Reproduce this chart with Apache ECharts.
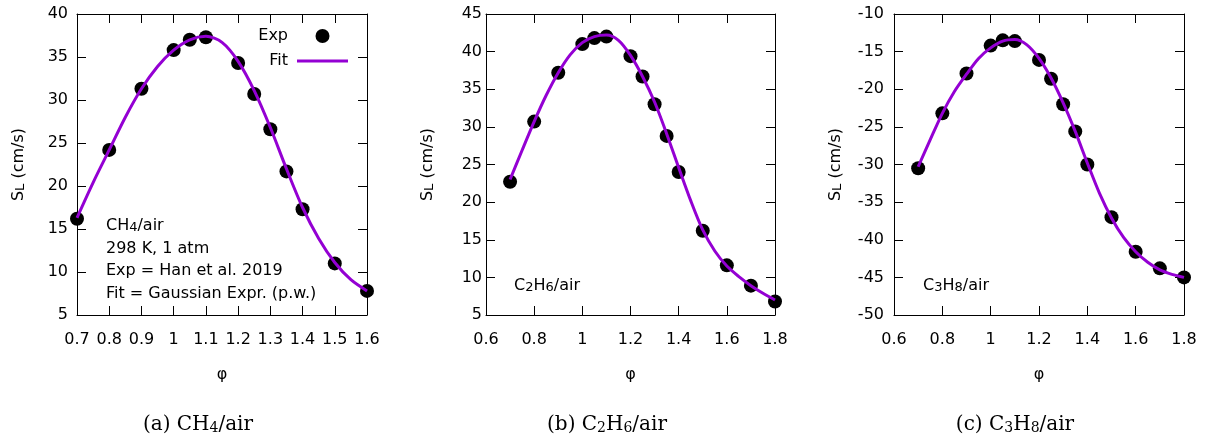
<!DOCTYPE html>
<html><head><meta charset="utf-8">
<script src="https://cdn.jsdelivr.net/npm/echarts@6/dist/echarts.min.js"></script>
<style>html,body{margin:0;padding:0;background:#fff}#c{width:1210px;height:441px}</style>
</head><body><div id="c"></div>
<script>
// ---- data ----
const phiCH4 = [0.7, 0.8, 0.9, 1.0, 1.05, 1.1, 1.2, 1.25, 1.3, 1.35, 1.4, 1.5, 1.6];
const expCH4 = [16.2, 24.2, 31.3, 35.8, 37.0, 37.3, 34.3, 30.7, 26.6, 21.7, 17.3, 11.0, 7.8];
const fitPhiCH4 = [0.7, 0.75, 0.8, 0.85, 0.9, 0.95, 1.0, 1.05, 1.1, 1.15, 1.2, 1.25, 1.3, 1.35, 1.4, 1.45, 1.5, 1.55, 1.6];
const fitCH4 = [16.3, 20.4, 24.2, 28.0, 31.3, 33.9, 35.8, 37.0, 37.4, 36.7, 34.5, 31.1, 26.8, 22.0, 17.5, 13.9, 11.1, 9.1, 7.8];

const phiC2H6 = [0.7, 0.8, 0.9, 1.0, 1.05, 1.1, 1.2, 1.25, 1.3, 1.35, 1.4, 1.5, 1.6, 1.7, 1.8];
const expC2H6 = [22.7, 30.7, 37.2, 41.0, 41.8, 42.0, 39.4, 36.7, 33.0, 28.8, 24.0, 16.2, 11.6, 8.9, 6.8];
const fitPhiC2H6 = [0.7, 0.75, 0.8, 0.85, 0.9, 0.95, 1.0, 1.05, 1.1, 1.15, 1.2, 1.25, 1.3, 1.35, 1.4, 1.45, 1.5, 1.55, 1.6, 1.65, 1.7, 1.75, 1.8];
const fitC2H6 = [23.0, 26.9, 30.7, 34.2, 37.2, 39.6, 41.2, 42.0, 42.2, 41.5, 39.5, 36.7, 33.3, 29.1, 24.6, 20.2, 16.3, 13.5, 11.5, 10.1, 8.9, 7.9, 7.0];

const phiC3H8 = [0.7, 0.8, 0.9, 1.0, 1.05, 1.1, 1.2, 1.25, 1.3, 1.35, 1.4, 1.5, 1.6, 1.7, 1.8];
const expC3H8 = [-30.5, -23.2, -17.9, -14.2, -13.5, -13.6, -16.1, -18.6, -22.0, -25.6, -30.0, -37.0, -41.6, -43.8, -45.0];
const fitPhiC3H8 = [0.7, 0.75, 0.8, 0.85, 0.9, 0.95, 1.0, 1.05, 1.1, 1.15, 1.2, 1.25, 1.3, 1.35, 1.4, 1.45, 1.5, 1.55, 1.6, 1.65, 1.7, 1.75, 1.8];
const fitC3H8 = [-30.3, -26.7, -23.2, -20.3, -18.0, -15.9, -14.5, -13.6, -13.4, -14.1, -15.9, -18.5, -21.8, -25.6, -29.8, -33.8, -37.1, -39.7, -41.6, -43.0, -44.0, -44.6, -45.0];

// axis ranges / tick settings
const xRanges = [[0.7, 1.6, 0.1], [0.6, 1.8, 0.2], [0.6, 1.8, 0.2]];
const yRanges = [[5, 40, 5], [5, 45, 5], [-50, -10, 5]];
const panelLabels = [['CH', '4'], ['C', '2', 'H', '6'], ['C', '3', 'H', '8']];
const captionTags = ['(a)', '(b)', '(c)'];

// ---- layout / style ----
const SANS = 'DejaVu Sans';
const SERIF = 'DejaVu Serif';
const PURPLE = '#9400D3';
const grids = [
  {left: 77, top: 14, width: 290, height: 301},
  {left: 486, top: 14, width: 289, height: 301},
  {left: 894, top: 14, width: 290, height: 301}
];
const yLabelMargins = [9, 4, 10];

function pair(xs, ys) { return xs.map((x, i) => [x, ys[i]]); }

const xAxes = [], yAxes = [];
grids.forEach((g, i) => {
  const [xmin, xmax, xint] = xRanges[i];
  const [ymin, ymax, yint] = yRanges[i];
  const base = {
    type: 'value', gridIndex: i,
    axisLine: {show: true, onZero: false, lineStyle: {color: '#000', width: 1}},
    axisTick: {show: true, inside: true, length: 9, lineStyle: {color: '#000', width: 1}},
    splitLine: {show: false}
  };
  xAxes.push(Object.assign({}, base, {
    position: 'bottom', min: xmin, max: xmax, interval: xint,
    name: 'φ', nameLocation: 'middle', nameGap: 52,
    nameTextStyle: {fontFamily: SANS, fontSize: 16, color: '#000'},
    axisLabel: {show: true, color: '#000', fontFamily: SANS, fontSize: 16, margin: 17}
  }));
  xAxes.push(Object.assign({}, base, {
    position: 'top', min: xmin, max: xmax, interval: xint, axisLabel: {show: false}
  }));
  yAxes.push(Object.assign({}, base, {
    position: 'left', min: ymin, max: ymax, interval: yint,
    name: '{n|S}{s|L}{n| (cm/s)}', nameLocation: 'middle', nameGap: 50,
    nameTextStyle: {
      color: '#000', fontFamily: SANS, fontSize: 16,
      rich: {
        n: {fontFamily: SANS, fontSize: 16, color: '#000', lineHeight: 16},
        s: {fontFamily: SANS, fontSize: 13, color: '#000', lineHeight: 8, verticalAlign: 'bottom'}
      }
    },
    axisLabel: {show: true, color: '#000', fontFamily: SANS, fontSize: 16, margin: yLabelMargins[i]}
  }));
  yAxes.push(Object.assign({}, base, {
    position: 'right', min: ymin, max: ymax, interval: yint, axisLabel: {show: false}
  }));
});

const expSets = [pair(phiCH4, expCH4), pair(phiC2H6, expC2H6), pair(phiC3H8, expC3H8)];
const fitSets = [pair(fitPhiCH4, fitCH4), pair(fitPhiC2H6, fitC2H6), pair(fitPhiC3H8, fitC3H8)];
const series = [];
grids.forEach((g, i) => {
  series.push({
    name: 'Exp', type: 'scatter', xAxisIndex: 2 * i, yAxisIndex: 2 * i,
    data: expSets[i], symbol: 'circle', symbolSize: 14,
    itemStyle: {color: '#000', opacity: 1}, z: 2, silent: true
  });
  series.push({
    name: 'Fit', type: 'line', xAxisIndex: 2 * i, yAxisIndex: 2 * i,
    data: fitSets[i], smooth: 0.3, symbol: 'none', showSymbol: false,
    lineStyle: {color: PURPLE, width: 3}, itemStyle: {color: PURPLE}, z: 3, silent: true
  });
});

function formulaRich(parts) {
  let s = '';
  parts.forEach((p, k) => { s += (k % 2 === 0 ? '{n|' : '{s|') + p + '}'; });
  return s;
}

const sansRich = {
  n: {fontFamily: SANS, fontSize: 16, fill: '#000', lineHeight: 16},
  s: {fontFamily: SANS, fontSize: 13, fill: '#000', lineHeight: 8, verticalAlign: 'bottom'}
};
const serifRich = {
  n: {fontFamily: SERIF, fontSize: 20, fill: '#000', lineHeight: 20},
  s: {fontFamily: SERIF, fontSize: 14, fill: '#000', lineHeight: 14, verticalAlign: 'bottom'}
};

const graphic = [];
const p1Lines = [
  formulaRich(panelLabels[0]) + '{n|/air}',
  '{n|298 K, 1 atm}',
  '{n|Exp = Han et al. 2019}',
  '{n|Fit = Gaussian Expr. (p.w.)}'
];
const p1Y = [226, 248.5, 271, 293.5];
p1Lines.forEach((t, k) => {
  graphic.push({type: 'text', x: 106, y: p1Y[k], silent: true,
    style: {text: t, rich: sansRich, align: 'left', verticalAlign: 'middle'}});
});
[[514, 286, panelLabels[1]], [923, 286, panelLabels[2]]].forEach(([x, y, parts]) => {
  graphic.push({type: 'text', x: x, y: y, silent: true,
    style: {text: formulaRich(parts) + '{n|/air}', rich: sansRich, align: 'left', verticalAlign: 'middle'}});
});
const capX = [198, 607, 1015];
capX.forEach((x, i) => {
  const parts = panelLabels[i].slice();
  parts[0] = captionTags[i] + ' ' + parts[0];
  graphic.push({type: 'text', x: x, y: 425, silent: true,
    style: {text: formulaRich(parts) + '{n|/air}', rich: serifRich, align: 'center', verticalAlign: 'middle'}});
});

const chart = echarts.init(document.getElementById('c'), null, {renderer: 'canvas'});
chart.setOption({
  animation: false,
  backgroundColor: '#fff',
  grid: grids,
  xAxis: xAxes,
  yAxis: yAxes,
  legend: {
    show: true, orient: 'vertical', align: 'right',
    right: 1210 - 348, top: 28, padding: 0,
    itemWidth: 51, itemHeight: 14, itemGap: 9, selectedMode: false,
    textStyle: {fontFamily: SANS, fontSize: 16, color: '#000', padding: [0, 4, 0, 0]},
    data: [
      {name: 'Exp', icon: 'circle', itemStyle: {color: '#000', opacity: 1}},
      {name: 'Fit', icon: 'path://M0,0L51,0L51,3L0,3Z', itemStyle: {color: PURPLE, borderWidth: 0}}
    ]
  },
  series: series,
  graphic: graphic
});
</script>
</body></html>
